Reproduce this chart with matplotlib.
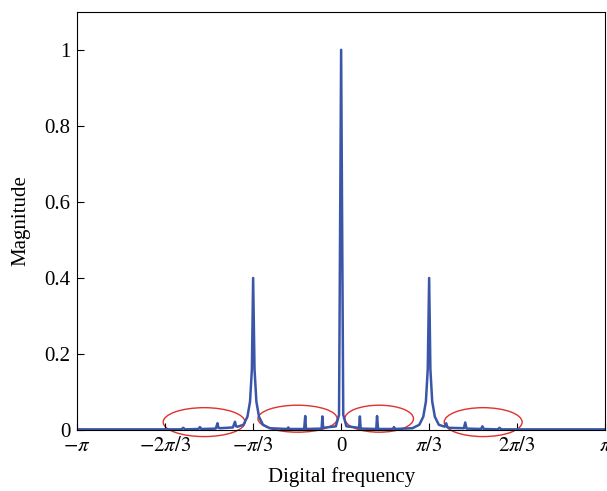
import matplotlib
matplotlib.use('Agg')
import matplotlib.pyplot as plt
from matplotlib.patches import Ellipse
import numpy as np

plt.rcParams.update({'font.family': 'Liberation Serif', 'mathtext.fontset': 'stix', 'font.size': 15})

# spectrum: frequency in units of pi, magnitude
freq_pi = [-1.0, -0.62, -0.605, -0.598, -0.591, -0.54, -0.535, -0.53, -0.525,
           -0.475, -0.468, -0.465, -0.46, -0.41, -0.402, -0.398, -0.392,
           -0.37, -0.355, -0.345, -0.338, -0.3333, -0.328, -0.321, -0.311, -0.296, -0.27,
           -0.205, -0.2, -0.196, -0.14, -0.136, -0.133, -0.074, -0.071, -0.068,
           -0.02, -0.008, 0.0, 0.008, 0.02,
           0.068, 0.071, 0.074, 0.133, 0.136, 0.14, 0.196, 0.2, 0.205,
           0.27, 0.296, 0.311, 0.321, 0.328, 0.3333, 0.338, 0.345, 0.355, 0.37,
           0.392, 0.398, 0.402, 0.41, 0.465, 0.47, 0.475, 0.53, 0.535, 0.54,
           0.593, 0.6, 0.607, 0.65, 1.0]
magnitude = [0.002, 0.002, 0.002, 0.006, 0.002, 0.003, 0.008, 0.003, 0.003,
             0.004, 0.018, 0.006, 0.005, 0.007, 0.022, 0.01, 0.009,
             0.014, 0.035, 0.075, 0.16, 0.40, 0.16, 0.075, 0.035, 0.014, 0.005,
             0.003, 0.007, 0.003, 0.003, 0.037, 0.003, 0.004, 0.036, 0.006,
             0.01, 0.04, 1.0, 0.04, 0.01,
             0.006, 0.036, 0.004, 0.003, 0.037, 0.003, 0.003, 0.008, 0.003,
             0.005, 0.014, 0.035, 0.075, 0.16, 0.40, 0.16, 0.075, 0.035, 0.014,
             0.009, 0.018, 0.008, 0.006, 0.005, 0.02, 0.004, 0.003, 0.01, 0.003,
             0.002, 0.006, 0.002, 0.002, 0.002]

tick_pos_pi = [-1, -2/3, -1/3, 0, 1/3, 2/3, 1]
tick_labels = [r'$-\pi$', r'$-2\pi/3$', r'$-\pi/3$', '0', r'$\pi/3$', r'$2\pi/3$', r'$\pi$']

# red ellipses marking the side lobes: centre (x in pi, y), width (pi), height
ellipses = [(-0.519, 0.021, 0.31, 0.076), (-0.165, 0.030, 0.30, 0.071),
            (0.144, 0.030, 0.26, 0.071), (0.538, 0.021, 0.295, 0.076)]

fig = plt.figure(figsize=[6.07, 4.91], dpi=100)
ax = fig.add_axes([0.127, 0.124, 0.87, 0.852])
ax.plot(np.array(freq_pi) * np.pi, magnitude, color='#3a56a8', lw=1.8)

for cx, cy, w, h in ellipses:
    ax.add_patch(Ellipse((cx * np.pi, cy), w * np.pi, h, fill=False,
                         edgecolor='#e0312b', lw=1.0, clip_on=False))

ax.set_xlim(-np.pi, np.pi)
ax.set_ylim(0, 1.1)
ax.set_xticks(np.array(tick_pos_pi) * np.pi)
ax.set_xticklabels(tick_labels)
ax.set_yticks([0, 0.2, 0.4, 0.6, 0.8, 1])
ax.set_yticklabels(['0', '0.2', '0.4', '0.6', '0.8', '1'])
ax.tick_params(direction='in', length=5, labelsize=15, pad=5)
ax.set_xlabel('Digital frequency', fontsize=15, labelpad=8)
ax.set_ylabel('Magnitude', fontsize=15, labelpad=10)
fig.savefig('out.png', dpi=100)
